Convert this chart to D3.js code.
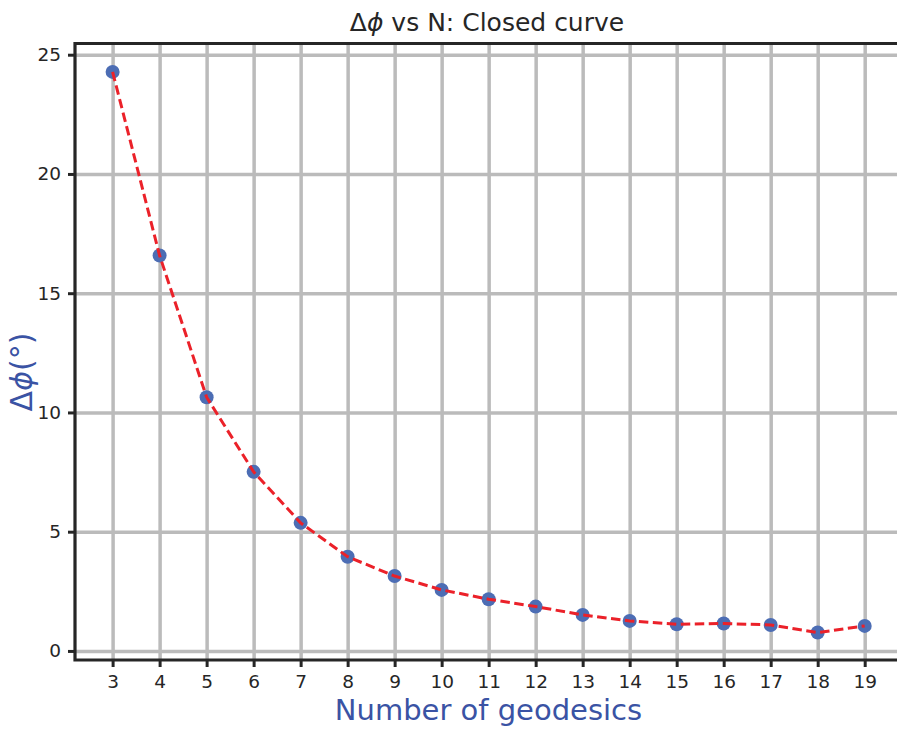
<!DOCTYPE html>
<html lang="en">
    <head>
        <meta charset="utf-8">
        <title>Delta phi vs N</title>
        <script src="https://d3js.org/d3.v7.min.js"></script>
        <style type="text/css">
body {
    margin: 0;
    background: #ffffff;
}
text {
    font-family: "DejaVu Sans", sans-serif;
}
        </style>
    </head>
    <body>
    <script type="text/javascript">
    // data
    const geodesics = [3, 4, 5, 6, 7, 8, 9, 10, 11, 12, 13, 14, 15, 16, 17, 18, 19];
    const deltaPhi = [24.28, 16.58, 10.64, 7.51, 5.37, 3.95, 3.14, 2.56, 2.17, 1.86, 1.51, 1.26, 1.12, 1.15, 1.09, 0.77, 1.05];
    const yTicks = [0, 5, 10, 15, 20, 25];

    //1. constants for the svg
    const svgWidth = 897;
    const svgHeight = 729;
    const plotLeft = 75, plotRight = 902.3, plotTop = 43.5, plotBottom = 660;
    const ink = "#262626";
    const labelBlue = "#3a53a4";

    const data = geodesics.map((n, i) => ({n: n, v: deltaPhi[i]}));

    //2. scales
    const xScale = d3.scaleLinear()
        .domain([2.2, 19.8])
        .range([plotLeft, plotRight]);

    const yScale = d3.scaleLinear()
        .domain([-0.38, 25.47])
        .range([plotBottom, plotTop]);

    //3. svg
    const svg = d3.select("body")
        .append("svg")
        .attr("width", svgWidth)
        .attr("height", svgHeight);

    //4. grid
    svg.append("g")
        .attr("transform", "translate(0," + plotBottom + ")")
        .call(d3.axisBottom(xScale).tickValues(geodesics).tickSize(-(plotBottom - plotTop)).tickFormat(""))
        .call(g => g.select(".domain").remove())
        .selectAll("line")
        .attr("stroke", "#bbbbbb")
        .attr("stroke-width", 3.5);

    svg.append("g")
        .attr("transform", "translate(" + plotLeft + ",0)")
        .call(d3.axisLeft(yScale).tickValues(yTicks).tickSize(-(plotRight - plotLeft)).tickFormat(""))
        .call(g => g.select(".domain").remove())
        .selectAll("line")
        .attr("stroke", "#bbbbbb")
        .attr("stroke-width", 3.5);

    //5. axes with ticks
    const xAxis = svg.append("g")
        .attr("transform", "translate(0," + plotBottom + ")")
        .call(d3.axisBottom(xScale).tickValues(geodesics).tickSize(7).tickPadding(8).tickSizeOuter(0));

    const yAxis = svg.append("g")
        .attr("transform", "translate(" + plotLeft + ",0)")
        .call(d3.axisLeft(yScale).tickValues(yTicks).tickSize(7).tickPadding(7).tickSizeOuter(0));

    [xAxis, yAxis].forEach(ax => {
        ax.select(".domain").remove();
        ax.selectAll("line").attr("stroke", ink).attr("stroke-width", 3);
        ax.selectAll("text")
            .attr("fill", ink)
            .style("font-size", "18.5px")
            .style("font-family", "DejaVu Sans, sans-serif");
    });

    // spines: left, top, bottom
    svg.append("path")
        .attr("d", "M" + plotRight + "," + plotTop + "H" + plotLeft + "V" + plotBottom + "H" + plotRight)
        .attr("fill", "none")
        .attr("stroke", ink)
        .attr("stroke-width", 3.2)
        .attr("stroke-linejoin", "miter")
        .attr("stroke-linecap", "square");

    //6. markers and dashed line
    svg.selectAll("circle")
        .data(data)
        .join("circle")
        .attr("cx", d => xScale(d.n))
        .attr("cy", d => yScale(d.v))
        .attr("r", 7)
        .attr("fill", "#4c6db4");

    const line = d3.line()
        .x(d => xScale(d.n))
        .y(d => yScale(d.v));

    svg.append("path")
        .datum(data)
        .attr("d", line)
        .attr("fill", "none")
        .attr("stroke", "#eb2129")
        .attr("stroke-width", 3)
        .attr("stroke-dasharray", "9.5,4.5");

    //7. title and labels
    const title = svg.append("text")
        .attr("x", 487)
        .attr("y", 30.5)
        .attr("text-anchor", "middle")
        .attr("fill", ink)
        .style("font-size", "25px");
    title.append("tspan").text("Δ");
    title.append("tspan").style("font-style", "italic").text("ϕ");
    title.append("tspan").text(" vs N: Closed curve");

    svg.append("text")
        .attr("x", 488.5)
        .attr("y", 720)
        .attr("text-anchor", "middle")
        .attr("fill", labelBlue)
        .style("font-size", "29px")
        .text("Number of geodesics");

    const ylab = svg.append("text")
        .attr("transform", "translate(32,372) rotate(-90)")
        .attr("text-anchor", "middle")
        .attr("fill", labelBlue)
        .style("font-size", "30px");
    ylab.append("tspan").text("Δ");
    ylab.append("tspan").style("font-style", "italic").text("ϕ");
    ylab.append("tspan").text("(°)");
    </script>
    </body>
</html>
